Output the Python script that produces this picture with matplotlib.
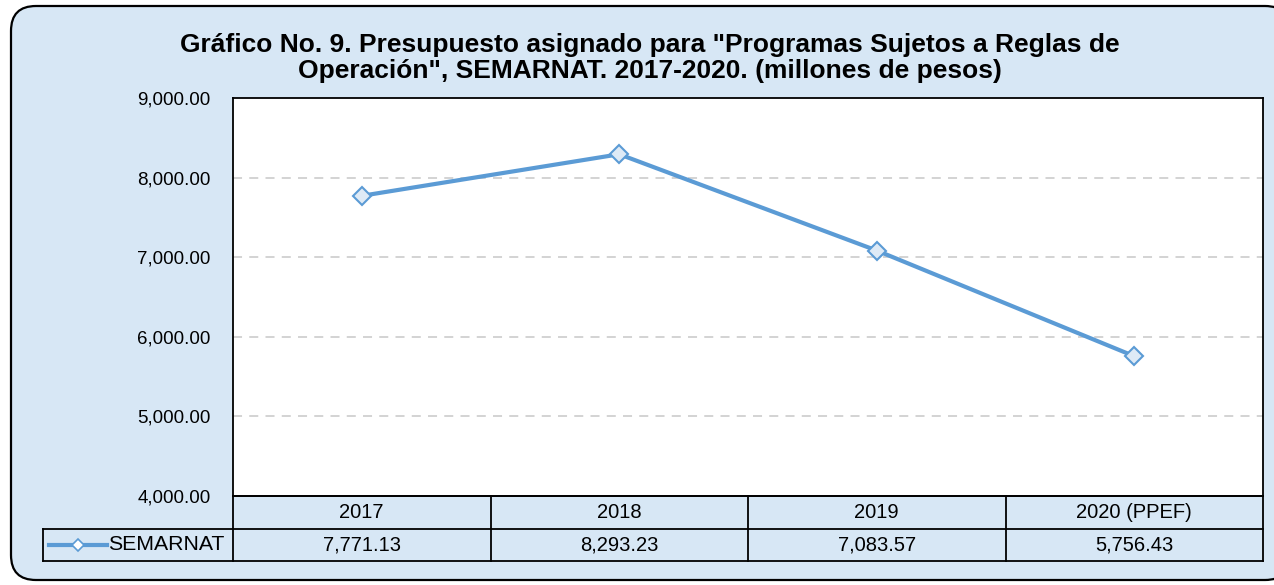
import matplotlib
matplotlib.use("Agg")
import matplotlib.pyplot as plt
from matplotlib.patches import FancyBboxPatch

categories = ["2017", "2018", "2019", "2020 (PPEF)"]
values = [7771.13, 8293.23, 7083.57, 5756.43]
value_labels = ["7,771.13", "8,293.23", "7,083.57", "5,756.43"]
series_name = "SEMARNAT"
yticks = [4000, 5000, 6000, 7000, 8000, 9000]
title = ('Gráfico No. 9. Presupuesto asignado para "Programas Sujetos a Reglas de\n'
         'Operación", SEMARNAT. 2017-2020. (millones de pesos)')

W, H = 1274, 585
plt.rcParams['font.family'] = ['Liberation Sans', 'DejaVu Sans']
fig = plt.figure(figsize=(W / 100, H / 100), dpi=100)
fig.patch.set_facecolor("white")

def fx(px):
    return px / W

def fy(py):
    return 1 - py / H

BG = "#D7E7F5"
LINE = "#5B9BD5"
MFACE = "#DEEAF6"

# background axes in pixel coordinates
bax = fig.add_axes([0, 0, 1, 1], zorder=-5)
bax.set_xlim(0, W)
bax.set_ylim(H, 0)
bax.axis("off")
bg = FancyBboxPatch((11, 6), 1290 - 11, 580 - 6,
                    boxstyle="round,pad=0,rounding_size=25",
                    facecolor=BG, edgecolor="black", linewidth=1.6, clip_on=True)
bax.add_patch(bg)

# main plot axes
L, R, T, B = 233, 1263, 98, 496
ax = fig.add_axes([fx(L), fy(B), fx(R) - fx(L), fy(T) - fy(B)])
ax.set_facecolor("white")
x = list(range(len(categories)))
ax.plot(x, values, color=LINE, linewidth=3.0, marker="D", markersize=9.5,
        markerfacecolor=MFACE, markeredgecolor=LINE, markeredgewidth=1.5, zorder=3)
ax.set_xlim(-0.5, len(categories) - 0.5)
ax.set_ylim(4000, 9000)
ax.set_yticks(yticks)
ax.set_yticklabels([f"{v:,.2f}" for v in yticks], fontsize=13.5)
ax.tick_params(axis="y", length=0, pad=16)
ax.set_xticks([])
for yv in yticks[1:-1]:
    ax.axhline(yv, color="#D0D0D0", linewidth=1.3, linestyle=(0, (5, 4)), zorder=1)
for s in ax.spines.values():
    s.set_color("black")
    s.set_linewidth(1.3)

# data table axes
TB = 561
tax = fig.add_axes([fx(L), fy(TB), fx(R) - fx(L), fy(B) - fy(TB)])
tax.set_xlim(-0.5, len(categories) - 0.5)
tax.set_ylim(0, 2)
tax.axis("off")
lw = 1.3
unit = (R - L) / len(categories)
left_ext = -0.5 - (L - 43) / unit
tax.plot([-0.5, len(categories) - 0.5], [2, 2], color="black", lw=lw, clip_on=False)
tax.plot([left_ext, len(categories) - 0.5], [1, 1], color="black", lw=lw, clip_on=False)
tax.plot([left_ext, len(categories) - 0.5], [0, 0], color="black", lw=lw, clip_on=False)
for i in range(len(categories) + 1):
    tax.plot([i - 0.5, i - 0.5], [0, 2], color="black", lw=lw, clip_on=False)
tax.plot([left_ext, left_ext], [0, 1], color="black", lw=lw, clip_on=False)
for i, (c, v) in enumerate(zip(categories, value_labels)):
    tax.text(i, 1.5, c, ha="center", va="center", fontsize=14.5)
    tax.text(i, 0.5, v, ha="center", va="center", fontsize=14.5)
kx0 = left_ext + (49 - 43) / unit
kx1 = left_ext + (107 - 43) / unit
tax.plot([kx0, kx1], [0.5, 0.5], color=LINE, lw=3.0, clip_on=False)
tax.plot([(kx0 + kx1) / 2], [0.5], marker="D", markersize=6, markerfacecolor="white",
         markeredgecolor=LINE, markeredgewidth=1.2, clip_on=False)
tax.text(left_ext + (108 - 43) / unit, 0.5, series_name, ha="left", va="center", fontsize=15.3)

fig.text(fx(650), fy(58), title, ha="center", va="center", fontsize=19,
         fontweight="bold", linespacing=1.13)

fig.savefig("out.png", dpi=100, facecolor="white")
